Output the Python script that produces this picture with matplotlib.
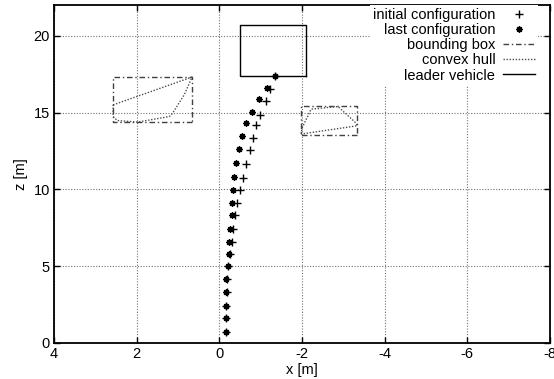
import numpy as np
import matplotlib.pyplot as plt
from matplotlib.lines import Line2D

# formation positions (x, z) in metres
init_x = [-0.16, -0.16, -0.17, -0.18, -0.19, -0.22, -0.27, -0.30, -0.32, -0.38, -0.42,
          -0.49, -0.57, -0.64, -0.73, -0.81, -0.89, -0.99, -1.12, -1.22, -1.35]
init_z = [0.74, 1.63, 2.43, 3.30, 4.17, 5.00, 5.80, 6.60, 7.45, 8.32, 9.14,
          9.97, 10.76, 11.66, 12.53, 13.36, 14.16, 14.87, 15.72, 16.53, 17.41]
last_x = [-0.15, -0.15, -0.15, -0.15, -0.16, -0.20, -0.23, -0.24, -0.26, -0.30, -0.31,
          -0.34, -0.36, -0.41, -0.47, -0.55, -0.65, -0.78, -0.97, -1.15, -1.35]
last_z = [0.74, 1.63, 2.43, 3.30, 4.17, 5.00, 5.80, 6.60, 7.45, 8.30, 9.14,
          9.97, 10.83, 11.70, 12.60, 13.46, 14.30, 15.03, 15.85, 16.60, 17.41]

# boxes as [xmin, xmax, zmin, zmax]
bbox_left = [0.66, 2.57, 14.38, 17.31]
bbox_right = [-3.34, -1.98, 13.55, 15.44]
leader_box = [-2.1, -0.5, 17.41, 20.7]

# convex hulls of obstacles
hull_left_x = [2.57, 0.66, 0.85, 1.13, 1.21, 1.98, 2.47, 2.57, 2.57]
hull_left_z = [15.5, 17.31, 16.15, 14.96, 14.74, 14.38, 14.48, 14.74, 15.5]
hull_right_x = [-1.98, -2.0, -2.22, -2.87, -3.31, -3.34, -1.98]
hull_right_z = [13.6, 13.98, 15.22, 15.39, 14.31, 14.14, 13.6]

x_ticks = [4, 2, 0, -2, -4, -6, -8]
z_ticks = [0, 5, 10, 15, 20]


def box_xy(b):
    x0, x1, z0, z1 = b
    return [x0, x1, x1, x0, x0], [z0, z0, z1, z1, z0]


def main():
    plt.rcParams['font.family'] = ['Liberation Sans', 'DejaVu Sans']
    plt.rcParams['font.size'] = 10.5
    plt.rcParams['axes.unicode_minus'] = False

    fig = plt.figure(figsize=(5.54, 3.79), dpi=100)
    ax = fig.add_axes([54 / 554, 36 / 379, 496 / 554, 338 / 379])

    ax.grid(True, color='0.45', linestyle=(0, (1, 1.5)), linewidth=0.8)
    ax.set_axisbelow(True)

    dashdot = (0, (4, 2, 1, 2))
    hull_ls = (0, (1, 1.2))
    for b in (bbox_left, bbox_right):
        bx, bz = box_xy(b)
        ax.plot(bx, bz, color='0.25', linestyle=dashdot, linewidth=1.0)
    ax.plot(hull_left_x, hull_left_z, color='0.3', linestyle=hull_ls, linewidth=1.0)
    ax.plot(hull_right_x, hull_right_z, color='0.3', linestyle=hull_ls, linewidth=1.0)
    lx, lz = box_xy(leader_box)
    ax.plot(lx, lz, color='black', linewidth=1.0)

    star = dict(linestyle='none', marker=(8, 2, 0), markersize=4.5,
                markeredgewidth=1.0, color='black')
    plus = dict(linestyle='none', marker='+', markersize=5.5,
                markeredgewidth=1.0, color='black')
    ax.plot(init_x, init_z, **plus)
    ax.plot(last_x, last_z, **star)

    ax.set_xlim(4, -8)
    ax.set_ylim(0, 22)
    ax.set_xticks(x_ticks)
    ax.set_yticks(z_ticks)
    ax.set_xlabel('x [m]', labelpad=1)
    ax.set_ylabel('z [m]', labelpad=4)
    ax.tick_params(direction='in', length=4, width=1, top=True, right=True, pad=3)
    for s in ax.spines.values():
        s.set_linewidth(1.3)

    handles = [
        Line2D([], [], **plus),
        Line2D([], [], **star),
        Line2D([], [], color='0.25', linestyle=dashdot, linewidth=1.0),
        Line2D([], [], color='0.3', linestyle=hull_ls, linewidth=1.0),
        Line2D([], [], color='black', linewidth=1.0),
    ]
    labels = ['initial configuration', 'last configuration', 'bounding box',
              'convex hull', 'leader vehicle']
    leg = ax.legend(handles, labels, loc='upper right', bbox_to_anchor=(0.975, 1.0),
                    markerfirst=False, frameon=True, fancybox=False, framealpha=1,
                    edgecolor='none', borderaxespad=0, borderpad=0.2,
                    labelspacing=0.08, handlelength=2.2, handletextpad=0.5)
    leg.get_frame().set_linewidth(0)

    fig.savefig('out.png', dpi=100)


if __name__ == '__main__':
    main()
